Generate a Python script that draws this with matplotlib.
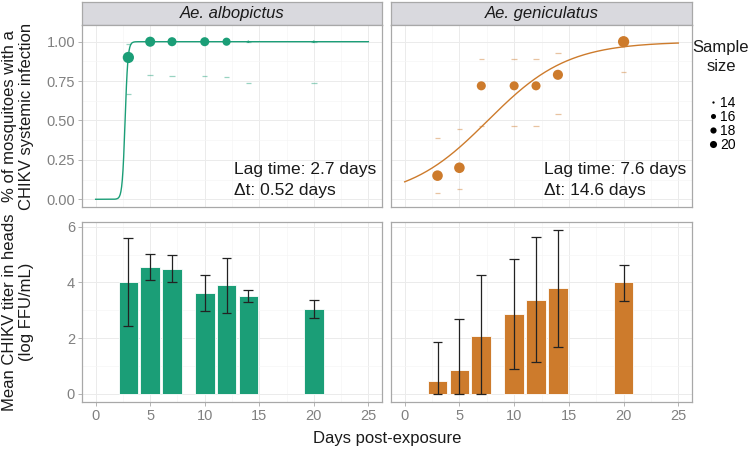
import numpy as np
import matplotlib
matplotlib.use("Agg")
import matplotlib.pyplot as plt
from matplotlib.lines import Line2D

plt.rcParams['font.family'] = ['Liberation Sans', 'DejaVu Sans']

# ---------------- data ----------------
species = ["Ae. albopictus", "Ae. geniculatus"]
colors = ["#1b9e77", "#cd7b2c"]
days = [3, 5, 7, 10, 12, 14, 20]

# proportion infected (top row)
prop_albo = [0.90, 1.00, 1.00, 1.00, 1.00, 1.00, 1.00]
prop_geni = [0.15, 0.20, 0.72, 0.72, 0.72, 0.79, 1.00]
low_albo = [0.67, 0.79, 0.78, 0.78, 0.775, 0.735, 0.735]
high_albo = [0.985, 1.00, 1.00, 1.00, 1.00, 1.00, 1.00]
low_geni = [0.04, 0.065, 0.465, 0.465, 0.465, 0.54, 0.81]
high_geni = [0.39, 0.445, 0.89, 0.89, 0.89, 0.93, 1.00]
n_albo = [35, 30, 26, 26, 23, 14, 14]
n_geni = [32, 32, 26, 26, 26, 30, 35]

# fitted curve parameters
lag_time = [2.7, 7.6]
delta_t = [0.52, 14.6]

# titer (bottom row)
titer_albo = [4.00, 4.57, 4.50, 3.62, 3.90, 3.50, 3.05]
tlow_albo = [2.42, 4.10, 4.00, 2.97, 2.92, 3.29, 2.72]
thigh_albo = [5.58, 5.03, 5.00, 4.27, 4.89, 3.72, 3.38]
titer_geni = [0.46, 0.85, 2.09, 2.88, 3.38, 3.79, 4.00]
tlow_geni = [0.00, 0.00, 0.00, 0.90, 1.15, 1.70, 3.35]
thigh_geni = [1.85, 2.68, 4.25, 4.86, 5.63, 5.88, 4.64]

legend_sizes = [14, 16, 18, 20]

# --------------- styling helpers ---------------
def size_px(n):
    n = np.asarray(n, float)
    return 2.3 * (1 + 5 * np.sqrt(np.clip(n - 14, 0, None) / 34.7))

def s_area(n):
    return (size_px(n) * 0.72) ** 2

grid_major = "#EBEBEB"
grid_minor = "#F5F5F5"
border = "#A8A8A8"
tick_col = "#808080"
text_col = "#1A1A1A"

fig = plt.figure(figsize=(7.5, 4.5), dpi=100)

W, H = 750.0, 450.0
def rect(x0, y0, x1, y1):
    return [x0 / W, 1 - y1 / H, (x1 - x0) / W, (y1 - y0) / H]

cols_x = [(82, 382), (391, 692)]
top_y = (25, 207)
bot_y = (222, 402)

def style(ax, xlabels, ylabels):
    ax.set_xlim(-1.25, 26.25)
    ax.set_xticks([0, 5, 10, 15, 20, 25])
    ax.set_xticks([2.5, 7.5, 12.5, 17.5, 22.5], minor=True)
    ax.grid(True, which="major", color=grid_major, lw=0.7, zorder=0)
    ax.grid(True, which="minor", color=grid_minor, lw=0.5, zorder=0)
    ax.set_axisbelow(True)
    for sp in ax.spines.values():
        sp.set_color(border)
        sp.set_linewidth(0.9)
    ax.tick_params(which="minor", length=0)
    ax.tick_params(which="major", length=3, width=0.6, color=border,
                   labelsize=10.5, labelcolor=tick_col, pad=2)
    if not xlabels:
        ax.tick_params(axis="x", which="major", length=0, labelbottom=False)
    if not ylabels:
        ax.tick_params(axis="y", which="major", length=0, labelleft=False)

props = [(prop_albo, low_albo, high_albo, n_albo),
         (prop_geni, low_geni, high_geni, n_geni)]
titers = [(titer_albo, tlow_albo, thigh_albo),
          (titer_geni, tlow_geni, thigh_geni)]

xs = np.linspace(0, 25, 400)
for i in range(2):
    x0, x1 = cols_x[i]
    col = colors[i]
    # strip
    sax = fig.add_axes(rect(x0, 2, x1, 25))
    sax.set_facecolor("#D9D9DE")
    sax.set_xticks([]); sax.set_yticks([])
    for sp in sax.spines.values():
        sp.set_color(border); sp.set_linewidth(0.9)
    sax.text(0.5, 0.48, species[i], transform=sax.transAxes, ha="center",
             va="center", fontsize=12, style="italic", color=text_col)

    # top panel
    ax = fig.add_axes(rect(x0, top_y[0], x1, top_y[1]))
    style(ax, False, i == 0)
    ax.set_ylim(-0.049, 1.106)
    ax.set_yticks([0, 0.25, 0.5, 0.75, 1.0])
    ax.set_yticklabels(["0.00", "0.25", "0.50", "0.75", "1.00"])
    ax.set_yticks([0.125, 0.375, 0.625, 0.875], minor=True)
    p, lo, hi, n = props[i]
    m, s = lag_time[i], delta_t[i] / 4.0
    ax.plot(xs, 1 / (1 + np.exp(-(xs - m) / s)), color=col, lw=1.0, zorder=3)
    d = np.array(days, float)
    ax.hlines(lo, d - 0.25, d + 0.25, color=col, alpha=0.45, lw=0.9, zorder=2)
    ax.hlines(hi, d - 0.25, d + 0.25, color=col, alpha=0.45, lw=0.9, zorder=2)
    ax.scatter(days, p, s=s_area(n), color=col, edgecolors="none", zorder=4)
    ax.text(12.7, 0.19, "Lag time: %.1f days" % lag_time[i], fontsize=12.5,
            ha="left", va="center", color=text_col)
    dt_txt = "%.2f" % delta_t[i] if i == 0 else "%.1f" % delta_t[i]
    ax.text(12.7, 0.055, "\u0394t: %s days" % dt_txt,
            fontsize=12.5, ha="left", va="center", color=text_col)

    # bottom panel
    bx = fig.add_axes(rect(x0, bot_y[0], x1, bot_y[1]))
    style(bx, True, i == 0)
    bx.set_ylim(-0.29, 6.17)
    bx.set_yticks([0, 2, 4, 6])
    bx.set_yticks([1, 3, 5], minor=True)
    t, tl, th = titers[i]
    bx.bar(days, t, width=1.8, color=col, edgecolor="white", linewidth=0.6, zorder=2)
    bx.vlines(days, tl, th, color="#222222", lw=0.9, zorder=3)
    bx.hlines(tl, d - 0.45, d + 0.45, color="#222222", lw=0.9, zorder=3)
    bx.hlines(th, d - 0.45, d + 0.45, color="#222222", lw=0.9, zorder=3)

# y axis titles
fig.text(18 / W, 1 - 116 / H, "% of mosquitoes with a\nCHIKV systemic infection",
         rotation=90, ha="center", va="center", fontsize=12, color=text_col,
         linespacing=1.2, multialignment="center")
fig.text(18 / W, 1 - 312 / H, "Mean CHIKV titer in heads\n(log FFU/mL)",
         rotation=90, ha="center", va="center", fontsize=12, color=text_col,
         linespacing=1.2, multialignment="center")

fig.text((82 + 692) / 2 / W, 1 - 438 / H, "Days post-exposure", ha="center",
         va="center", fontsize=12, color=text_col)

# size legend
fig.text(721 / W, 1 - 57 / H, "Sample\nsize", ha="center", va="center",
         fontsize=12, color=text_col, linespacing=1.35, multialignment="center")
handles = [Line2D([], [], ls="none", marker="o", color="black",
                  markersize=size_px(v) * 0.72, markeredgewidth=0) for v in legend_sizes]
fig.legend(handles, [str(v) for v in legend_sizes],
           loc="upper left", bbox_to_anchor=(708 / W, 1 - 96 / H),
           frameon=False, fontsize=10,
           handlelength=0.7, handletextpad=0.15, labelspacing=0.0,
           borderaxespad=0, borderpad=0)

fig.savefig("out.png", dpi=100)
